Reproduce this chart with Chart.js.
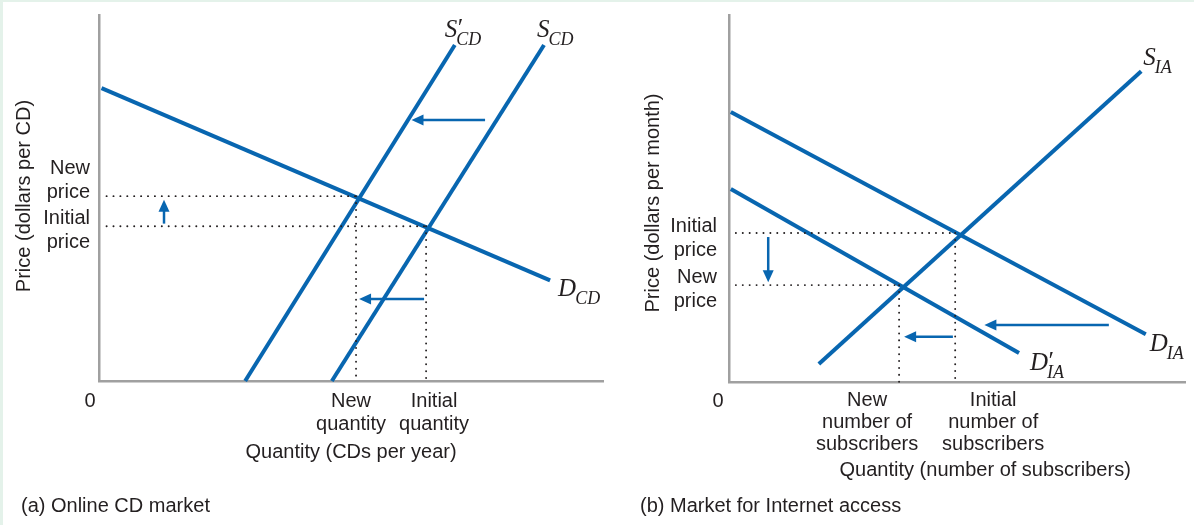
<!DOCTYPE html>
<html>
<head>
<meta charset="utf-8">
<script src="https://cdn.jsdelivr.net/npm/chart.js@4.4.1/dist/chart.umd.min.js"></script>
<style>
  html, body { margin: 0; padding: 0; background: #e4f2ea; }
  #wrap { position: relative; width: 1194px; height: 525px; overflow: hidden; }
  #paper { position: absolute; left: 3px; top: 2px; right: 0; bottom: 0; background: #fff; }
  canvas { position: absolute; left: 0; top: 0; }
</style>
</head>
<body>
<div id="wrap">
  <div id="paper"></div>
  <canvas id="cd-chart" width="1194" height="525"></canvas>
  <canvas id="ia-chart" width="1194" height="525"></canvas>
</div>
<script>
// (a) Online CD market -- both axes run 0..10 (arbitrary units)
const cdDemand = [{x: 0.05, y: 8.0}, {x: 8.95, y: 2.75}];
const cdSupply = [{x: 4.62, y: 0}, {x: 8.83, y: 9.18}];
const cdSupplyNew = [{x: 2.9, y: 0}, {x: 7.06, y: 9.18}];
const cdPrices = [4.23, 5.05];      // initial, new
const cdQuantities = [6.49, 5.1];   // initial, new
const cdArrows = [
  {from: [1.29, 4.3], to: [1.29, 4.95]},
  {from: [7.66, 7.13], to: [6.2, 7.13]},
  {from: [6.45, 2.24], to: [5.16, 2.24]},
];

// (b) Market for Internet access
const iaDemand = [{x: 0.04, y: 7.36}, {x: 9.14, y: 1.3}];
const iaDemandNew = [{x: 0.04, y: 5.26}, {x: 6.36, y: 0.79}];
const iaSupply = [{x: 1.97, y: 0.49}, {x: 9.04, y: 8.47}];
const iaPrices = [4.06, 2.64];      // initial, new
const iaQuantities = [4.96, 3.73];  // initial, new
const iaArrows = [
  {from: [0.86, 3.95], to: [0.86, 2.72]},
  {from: [4.91, 1.23], to: [3.84, 1.23]},
  {from: [8.33, 1.55], to: [5.6, 1.55]},
];

const BLUE = "#0866b0";
const INK = "#231f20";
const AXIS = "#a0a0a0";
const SANS = "'Liberation Sans', Arial, sans-serif";
const SERIF = "'Liberation Serif', 'Times New Roman', serif";

function curve(data) {
  return {
    data, showLine: true, borderColor: BLUE, borderWidth: 4,
    pointRadius: 0, tension: 0, borderCapStyle: "butt", clip: false,
  };
}

function dotted(data) {
  return {
    data, showLine: true, borderColor: INK, borderWidth: 1.9,
    borderDash: [0.1, 6.8], borderCapStyle: "round",
    pointRadius: 0, tension: 0, clip: false,
  };
}

// dotted guides from the axes to each equilibrium
function guides(prices, qtys) {
  return prices.map((p, i) => [
    dotted([{x: 0.15, y: p}, {x: qtys[i], y: p}]),
    dotted([{x: qtys[i], y: p}, {x: qtys[i], y: 0}]),
  ]).flat();
}

function axisScale() {
  return {
    type: "linear", min: 0, max: 10,
    grid: { display: false, drawTicks: false },
    ticks: { display: false },
    border: { display: true, color: AXIS, width: 2.5 },
    afterFit(s) { if (s.isHorizontal()) s.height = 0; else s.width = 0; },
  };
}

function text(ctx, str, x, y, align, font) {
  ctx.font = font;
  ctx.fillStyle = INK;
  ctx.textAlign = align;
  ctx.textBaseline = "middle";
  ctx.fillText(str, x, y);
}

// italic curve label like S'_CD : main letter, optional prime, subscript
function curveLabel(ctx, x, y, letter, sub, prime) {
  ctx.fillStyle = INK;
  ctx.textBaseline = "alphabetic";
  ctx.textAlign = "left";
  ctx.font = "italic 25px " + SERIF;
  ctx.fillText(letter, x, y);
  const w = ctx.measureText(letter).width;
  if (prime) ctx.fillText("\u2032", x + w - 1, y - 1);
  ctx.font = "italic 18px " + SERIF;
  ctx.fillText(sub, x + w - 1, y + 8);
}

function drawArrow(ctx, x0, y0, x1, y1) {
  const ang = Math.atan2(y1 - y0, x1 - x0);
  const head = 12;
  ctx.save();
  ctx.strokeStyle = BLUE;
  ctx.fillStyle = BLUE;
  ctx.lineWidth = 2.5;
  ctx.beginPath();
  ctx.moveTo(x0, y0);
  ctx.lineTo(x1 - Math.cos(ang) * head * 0.8, y1 - Math.sin(ang) * head * 0.8);
  ctx.stroke();
  ctx.beginPath();
  ctx.moveTo(x1, y1);
  ctx.lineTo(x1 - Math.cos(ang) * head + Math.sin(ang) * 5.5, y1 - Math.sin(ang) * head - Math.cos(ang) * 5.5);
  ctx.lineTo(x1 - Math.cos(ang) * head - Math.sin(ang) * 5.5, y1 - Math.sin(ang) * head + Math.cos(ang) * 5.5);
  ctx.closePath();
  ctx.fill();
  ctx.restore();
}

const arrowPlugin = {
  id: "arrows",
  afterDatasetsDraw(chart, args, opts) {
    const { x, y } = chart.scales;
    opts.list.forEach((a) => {
      drawArrow(chart.ctx,
        x.getPixelForValue(a.from[0]), y.getPixelForValue(a.from[1]),
        x.getPixelForValue(a.to[0]), y.getPixelForValue(a.to[1]));
    });
  },
};

const cdLabels = {
  id: "cdLabels",
  afterDraw(chart) {
    const ctx = chart.ctx;
    const { x, y } = chart.scales;
    const f = "20px " + SANS;
    const left = chart.chartArea.left;
    const bottom = chart.chartArea.bottom;
    const pNew = y.getPixelForValue(cdPrices[1]);
    const pOld = y.getPixelForValue(cdPrices[0]);
    text(ctx, "New", left - 9, pNew - 28, "right", f);
    text(ctx, "price", left - 9, pNew - 4, "right", f);
    text(ctx, "Initial", left - 9, pOld - 8, "right", f);
    text(ctx, "price", left - 9, pOld + 16, "right", f);

    const qNew = x.getPixelForValue(cdQuantities[1]);
    const qOld = x.getPixelForValue(cdQuantities[0]);
    text(ctx, "New", qNew - 5, bottom + 20, "center", f);
    text(ctx, "quantity", qNew - 5, bottom + 43, "center", f);
    text(ctx, "Initial", qOld + 8, bottom + 20, "center", f);
    text(ctx, "quantity", qOld + 8, bottom + 43, "center", f);
    text(ctx, "Quantity (CDs per year)", qNew - 5, bottom + 71, "center", f);
    text(ctx, "0", left - 9, bottom + 20, "center", f);
    text(ctx, "(a) Online CD market", 21, 506, "left", f);

    ctx.save();
    ctx.translate(24, 196);
    ctx.rotate(-Math.PI / 2);
    text(ctx, "Price (dollars per CD)", 0, 0, "center", f);
    ctx.restore();

    const sNew = cdSupplyNew[1], sOld = cdSupply[1], d = cdDemand[1];
    curveLabel(ctx, x.getPixelForValue(sNew.x) - 10, y.getPixelForValue(sNew.y) - 8, "S", "CD", true);
    curveLabel(ctx, x.getPixelForValue(sOld.x) - 7, y.getPixelForValue(sOld.y) - 8, "S", "CD", false);
    curveLabel(ctx, x.getPixelForValue(d.x) + 8, y.getPixelForValue(d.y) + 16, "D", "CD", false);
  },
};

const iaLabels = {
  id: "iaLabels",
  afterDraw(chart) {
    const ctx = chart.ctx;
    const { x, y } = chart.scales;
    const f = "20px " + SANS;
    const left = chart.chartArea.left;
    const bottom = chart.chartArea.bottom;
    const pOld = y.getPixelForValue(iaPrices[0]);
    const pNew = y.getPixelForValue(iaPrices[1]);
    text(ctx, "Initial", left - 12, pOld - 7, "right", f);
    text(ctx, "price", left - 12, pOld + 17, "right", f);
    text(ctx, "New", left - 12, pNew - 8, "right", f);
    text(ctx, "price", left - 12, pNew + 16, "right", f);

    const qOld = x.getPixelForValue(iaQuantities[0]);
    const qNew = x.getPixelForValue(iaQuantities[1]);
    text(ctx, "New", qNew - 32, bottom + 18, "center", f);
    text(ctx, "number of", qNew - 32, bottom + 40, "center", f);
    text(ctx, "subscribers", qNew - 32, bottom + 62, "center", f);
    text(ctx, "Initial", qOld + 38, bottom + 18, "center", f);
    text(ctx, "number of", qOld + 38, bottom + 40, "center", f);
    text(ctx, "subscribers", qOld + 38, bottom + 62, "center", f);
    text(ctx, "Quantity (number of subscribers)", qOld + 30, bottom + 88, "center", f);
    text(ctx, "0", left - 11, bottom + 19, "center", f);
    text(ctx, "(b) Market for Internet access", 640, 506, "left", f);

    ctx.save();
    ctx.translate(653, 203);
    ctx.rotate(-Math.PI / 2);
    text(ctx, "Price (dollars per month)", 0, 0, "center", f);
    ctx.restore();

    const s = iaSupply[1], d = iaDemand[1], dn = iaDemandNew[1];
    curveLabel(ctx, x.getPixelForValue(s.x) + 2, y.getPixelForValue(s.y) - 6, "S", "IA", false);
    curveLabel(ctx, x.getPixelForValue(d.x) + 4, y.getPixelForValue(d.y) + 17, "D", "IA", false);
    curveLabel(ctx, x.getPixelForValue(dn.x) + 11, y.getPixelForValue(dn.y) + 17, "D", "IA", true);
  },
};

function makeChart(id, datasets, padding, arrows, labelPlugin) {
  return new Chart(document.getElementById(id), {
    type: "scatter",
    data: { datasets },
    options: {
      responsive: false,
      animation: false,
      devicePixelRatio: 1,
      layout: { padding },
      scales: { x: axisScale(), y: axisScale() },
      plugins: {
        legend: { display: false },
        tooltip: { enabled: false },
        arrows: { list: arrows },
      },
    },
    plugins: [arrowPlugin, labelPlugin],
  });
}

makeChart("cd-chart",
  [...guides(cdPrices, cdQuantities), curve(cdDemand), curve(cdSupplyNew), curve(cdSupply)],
  { left: 99, top: 15, right: 1194 - 603, bottom: 525 - 381 },
  cdArrows, cdLabels);

makeChart("ia-chart",
  [...guides(iaPrices, iaQuantities), curve(iaDemand), curve(iaDemandNew), curve(iaSupply)],
  { left: 729, top: 15, right: 1194 - 1185, bottom: 525 - 382 },
  iaArrows, iaLabels);
</script>
</body>
</html>
